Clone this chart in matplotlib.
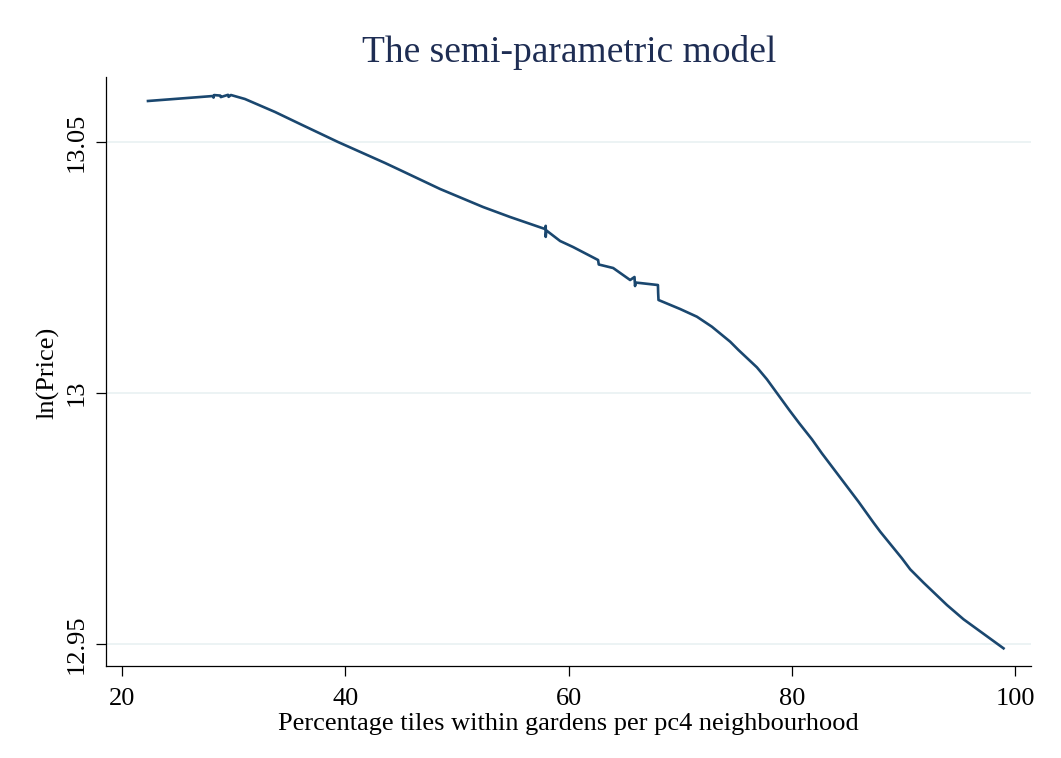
import matplotlib
matplotlib.use("Agg")
import matplotlib.pyplot as plt

# Curve (x = % tiles, y = ln(Price)); repeated x values are the little vertical jumps
pct_tiles = [22.33, 28.15, 28.2, 28.25, 28.8, 28.85, 29.5, 29.55, 29.76, 31.01, 33.71, 35.95,
             39.35, 43.56, 44.90, 48.49, 52.34, 54.76, 57.89, 57.95, 57.95, 58.0,
             59.24, 60.40, 62.64, 62.7, 63.99, 65.51, 65.9, 65.95, 66.0, 66.4,
             68.0, 68.02, 68.05, 69.99, 71.49, 72.83, 74.47, 75.21, 76.86, 77.76,
             79.76, 80.66, 81.79, 82.68, 85.96, 87.31, 87.91, 89.85, 90.59, 91.79,
             93.88, 95.37, 98.95]
ln_price = [13.05817, 13.05916, 13.05885, 13.05935, 13.05925, 13.05895, 13.05940, 13.05900,
            13.05936, 13.05857, 13.05598, 13.05359, 13.05000, 13.04582, 13.04442,
            13.04064, 13.03705, 13.03506, 13.03267, 13.03330, 13.03110, 13.03240,
            13.03028, 13.02908, 13.02649, 13.02560, 13.02490, 13.02251, 13.02311,
            13.02131, 13.02200, 13.02191, 13.02151, 13.01990, 13.01853,
            13.01673, 13.01520, 13.01321, 13.01022, 13.00857, 13.00512, 13.00273,
            12.99661, 12.99396, 12.99078, 12.98799, 12.97835, 12.97416, 12.97237,
            12.96707, 12.96488, 12.96221, 12.95777, 12.95492, 12.94914]

x_ticks = [20, 40, 60, 80, 100]
y_ticks = [12.95, 13.0, 13.05]
y_tick_labels = ["12.95", "13", "13.05"]

plt.rcParams['font.family'] = ['Liberation Serif', 'DejaVu Serif']

fig = plt.figure(figsize=(10.61, 7.58), dpi=100)
ax = fig.add_axes([106 / 1061, 1 - 666 / 758, (1031 - 106) / 1061, (666 - 77) / 758])

ax.plot(pct_tiles, ln_price, color="#1a476f", lw=1.9, solid_joinstyle="round")

ax.set_xlim(18.57, 101.41)
ax.set_ylim(12.94562, 13.06295)
ax.set_xticks(x_ticks)
ax.set_yticks(y_ticks)
ax.set_yticklabels(y_tick_labels, rotation=90, va="center")
ax.tick_params(axis="both", direction="out", length=7.5, width=0.9, labelsize=19)
ax.tick_params(axis="x", pad=8.5)
ax.tick_params(axis="y", pad=6)
ax.yaxis.grid(True, color="#eaf2f3", lw=1.3)
ax.set_axisbelow(True)
for side in ["top", "right"]:
    ax.spines[side].set_visible(False)
for side in ["left", "bottom"]:
    ax.spines[side].set_linewidth(0.9)

fig.text(569 / 1061, 1 - 52 / 758, "The semi-parametric model", ha="center", va="center",
         fontsize=27, color="#1e2d53")
fig.text(568 / 1061, 1 - 724 / 758, "Percentage tiles within gardens per pc4 neighbourhood",
         ha="center", va="center", fontsize=19)
fig.text(48 / 1061, 1 - 373 / 758, "ln(Price)", ha="center", va="center", rotation=90, fontsize=19)

fig.savefig("out.png", dpi=100)
